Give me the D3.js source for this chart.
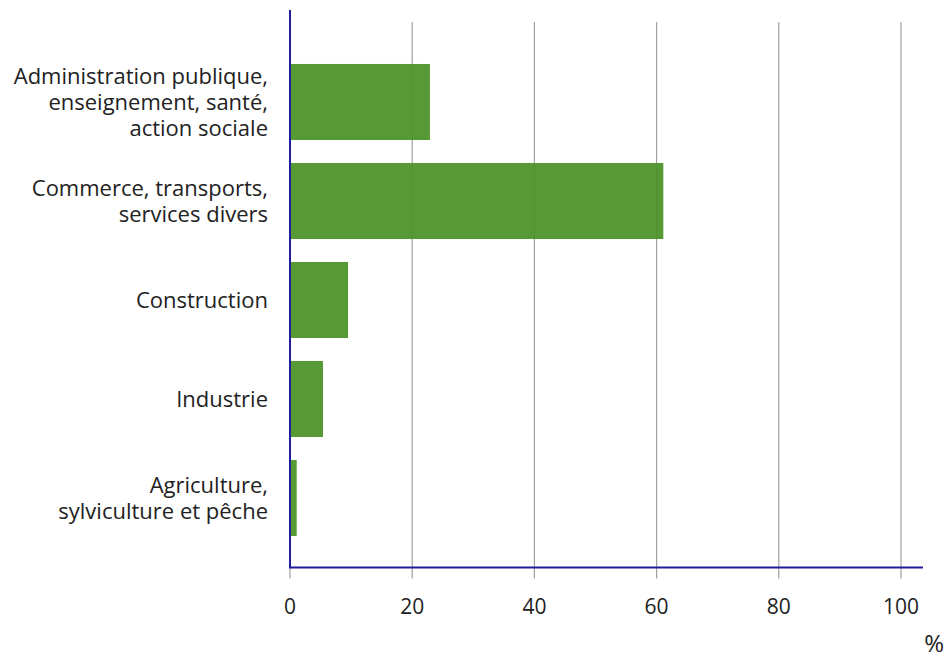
<!DOCTYPE html>
<html>
<head>
<meta charset="utf-8">
<script src="https://cdn.jsdelivr.net/npm/d3@7"></script>
<style>
  body { margin: 0; background: #fff; }
  text { font-family: "Open Sans", sans-serif; }
</style>
</head>
<body>
<div id="chart"></div>
<script>
// sectors, top to bottom, each label split in lines
var categories = [
  ["Administration publique,", "enseignement, santé,", "action sociale"],
  ["Commerce, transports,", "services divers"],
  ["Construction"],
  ["Industrie"],
  ["Agriculture,", "sylviculture et pêche"]
];
var values = [22.9, 61.1, 9.5, 5.4, 1.1];
var xTicks = [0, 20, 40, 60, 80, 100];

var width = 948, height = 659;
var svg = d3.select("#chart").append("svg")
  .attr("width", width)
  .attr("height", height);

var x = d3.scaleLinear().domain([0, 100]).range([290, 901]);
var y = d3.scaleBand()
  .domain(d3.range(categories.length))
  .range([52.5, 547.5])
  .paddingInner(0.232)
  .paddingOuter(0.116);

var axisY = 567.5;

// vertical grid lines
svg.selectAll("line.grid")
  .data(xTicks.slice(1))
  .enter().append("line")
  .attr("class", "grid")
  .attr("x1", function(d) { return x(d); })
  .attr("x2", function(d) { return x(d); })
  .attr("y1", 22)
  .attr("y2", axisY + 11)
  .attr("stroke", "#a0a0a0")
  .attr("stroke-width", 1.2);

// bars
svg.selectAll("rect.bar")
  .data(values)
  .enter().append("rect")
  .attr("class", "bar")
  .attr("x", x(0))
  .attr("y", function(d, i) { return y(i); })
  .attr("width", function(d) { return x(d) - x(0); })
  .attr("height", y.bandwidth())
  .attr("fill", "#4a9126")
  .attr("fill-opacity", 0.93);

// tick below axis at 0
svg.append("line")
  .attr("x1", x(0)).attr("x2", x(0))
  .attr("y1", axisY).attr("y2", axisY + 11)
  .attr("stroke", "#a0a0a0").attr("stroke-width", 1.2);

// axis lines
svg.append("line")
  .attr("x1", x(0)).attr("x2", x(0))
  .attr("y1", 10).attr("y2", axisY)
  .attr("stroke", "#1f1f9a").attr("stroke-width", 2);
svg.append("line")
  .attr("x1", x(0) - 1).attr("x2", 923)
  .attr("y1", axisY).attr("y2", axisY)
  .attr("stroke", "#1f1f9a").attr("stroke-width", 2);

// x tick labels
svg.selectAll("text.xtick")
  .data(xTicks)
  .enter().append("text")
  .attr("class", "xtick")
  .attr("x", function(d) { return x(d); })
  .attr("y", 614)
  .attr("text-anchor", "middle")
  .attr("font-size", 21)
  .attr("fill", "#222")
  .text(function(d) { return d; });

svg.append("text")
  .attr("x", 944)
  .attr("y", 652)
  .attr("text-anchor", "end")
  .attr("font-size", 24)
  .attr("fill", "#222")
  .text("%");

// category labels
var lineH = 26;
svg.selectAll("text.cat")
  .data(categories)
  .enter().append("text")
  .attr("class", "cat")
  .attr("text-anchor", "end")
  .attr("font-size", 22)
  .attr("fill", "#222")
  .each(function(lines, i) {
    var cy = y(i) + y.bandwidth() / 2;
    var first = cy - (lines.length - 1) * lineH / 2 + 8;
    d3.select(this).selectAll("tspan")
      .data(lines)
      .enter().append("tspan")
      .attr("x", 268)
      .attr("y", function(d, j) { return first + j * lineH; })
      .text(function(d) { return d; });
  });
</script>
</body>
</html>
